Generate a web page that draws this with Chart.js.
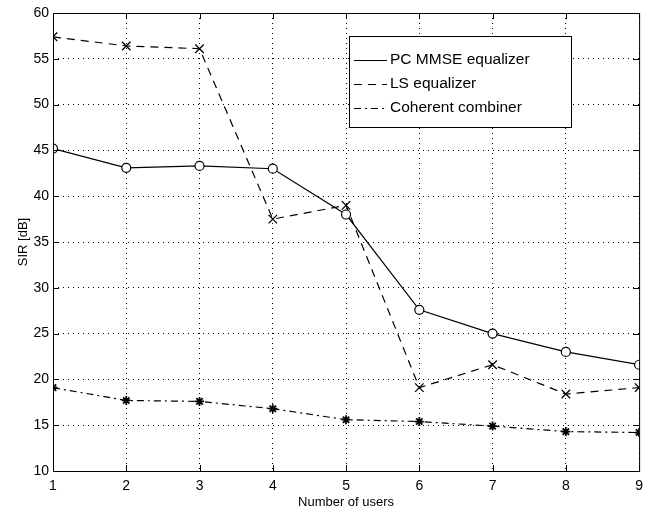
<!DOCTYPE html>
<html>
<head>
<meta charset="utf-8">
<script src="https://cdn.jsdelivr.net/npm/chart.js@4"></script>
<style>
  body { margin: 0; background: #fff; }
  #wrap { width: 650px; height: 512px; }
</style>
</head>
<body>
<div id="wrap"><canvas id="sir" width="650" height="512"></canvas></div>
<script>
const users = [1, 2, 3, 4, 5, 6, 7, 8, 9];
const pcMmse = [45.2, 43.1, 43.3, 43.0, 38.0, 27.6, 25.0, 23.0, 21.6];
const lsEq = [57.4, 56.4, 56.1, 37.5, 39.0, 19.1, 21.6, 18.4, 19.1];
const coherent = [19.1, 17.7, 17.6, 16.8, 15.6, 15.4, 14.9, 14.3, 14.2];
const yTicks = [10, 15, 20, 25, 30, 35, 40, 45, 50, 55, 60];

const legendItems = [
  { text: "PC MMSE equalizer", dash: [] },
  { text: "LS equalizer", dash: [8, 6] },
  { text: "Coherent combiner", dash: [7, 4, 2, 4] },
];

const FONT = "'Liberation Sans', Arial, sans-serif";

// matlab-ish frame, inward ticks and boxed legend
const frame = {
  id: "frame",
  afterDraw(chart) {
    const { ctx, chartArea: a, scales } = chart;
    ctx.save();
    ctx.strokeStyle = "#000";
    ctx.lineWidth = 1;
    ctx.strokeRect(a.left + 0.5, a.top + 0.5, a.right - a.left, a.bottom - a.top);
    ctx.beginPath();
    users.forEach(u => {
      const x = Math.round(scales.x.getPixelForValue(u)) + 0.5;
      ctx.moveTo(x, a.bottom); ctx.lineTo(x, a.bottom - 6);
      ctx.moveTo(x, a.top); ctx.lineTo(x, a.top + 6);
    });
    yTicks.forEach(v => {
      const y = Math.round(scales.y.getPixelForValue(v)) + 0.5;
      ctx.moveTo(a.left, y); ctx.lineTo(a.left + 6, y);
      ctx.moveTo(a.right, y); ctx.lineTo(a.right - 6, y);
    });
    ctx.stroke();

    // legend box
    const bx = 349, by = 36, bw = 222, bh = 91;
    ctx.fillStyle = "#fff";
    ctx.fillRect(bx, by, bw, bh);
    ctx.strokeRect(bx + 0.5, by + 0.5, bw, bh);
    ctx.font = "15.5px " + FONT;
    ctx.textBaseline = "middle";
    ctx.fillStyle = "#000";
    legendItems.forEach((it, i) => {
      const y = by + 24 + i * 24;
      ctx.setLineDash(it.dash);
      ctx.beginPath();
      ctx.moveTo(bx + 5, y + 0.5);
      ctx.lineTo(bx + 38, y + 0.5);
      ctx.stroke();
      ctx.setLineDash([]);
      ctx.fillText(it.text, bx + 41, y);
    });
    ctx.restore();
  }
};

const ctx = document.getElementById("sir").getContext("2d");
const chart = new Chart(ctx, {
  type: "line",
  data: {
    labels: users,
    datasets: [
      {
        label: "PC MMSE equalizer",
        data: pcMmse,
        borderColor: "#000",
        backgroundColor: "transparent",
        borderWidth: 1.2,
        pointStyle: "circle",
        pointRadius: 4.5,
        pointBorderColor: "#000",
        pointBackgroundColor: "#fff",
        pointBorderWidth: 1.2,
      },
      {
        label: "LS equalizer",
        data: lsEq,
        borderColor: "#000",
        borderWidth: 1.2,
        borderDash: [8, 6],
        pointStyle: "crossRot",
        pointRadius: 6,
        pointBorderColor: "#000",
        pointBorderWidth: 1.3,
      },
      {
        label: "Coherent combiner",
        data: coherent,
        borderColor: "#000",
        borderWidth: 1.2,
        borderDash: [7, 4, 2, 4],
        pointStyle: "star",
        pointRadius: 4.5,
        pointBorderColor: "#000",
        pointBorderWidth: 1.8,
      },
    ],
  },
  options: {
    responsive: false,
    animation: false,
    layout: { padding: { top: 13, right: 8, left: 0, bottom: 0 } },
    plugins: {
      legend: { display: false },
      tooltip: { enabled: false },
    },
    scales: {
      x: {
        type: "linear",
        min: 1,
        max: 9,
        afterFit(s) { s.height = 41; },
        afterBuildTicks(s) { s.ticks = users.map(v => ({ value: v })); },
        grid: { color: "#000", lineWidth: 1, drawTicks: false, tickLength: 0 },
        border: { display: false, dash: [1, 4] },
        ticks: { color: "#000", padding: 7, font: { family: FONT, size: 14 } },
        title: {
          display: true,
          text: "Number of users",
          color: "#000",
          padding: { top: 0, bottom: 2 },
          font: { family: FONT, size: 13 },
        },
      },
      y: {
        min: 10,
        max: 60,
        afterFit(s) { s.width = 53; },
        afterBuildTicks(s) { s.ticks = yTicks.map(v => ({ value: v })); },
        grid: { color: "#000", lineWidth: 1, drawTicks: false, tickLength: 0 },
        border: { display: false, dash: [1, 4] },
        ticks: { color: "#000", padding: 4, font: { family: FONT, size: 14 } },
        title: {
          display: true,
          text: "SIR [dB]",
          color: "#000",
          padding: { top: 16, bottom: 0 },
          font: { family: FONT, size: 13 },
        },
      },
    },
  },
  plugins: [frame],
});
</script>
</body>
</html>
